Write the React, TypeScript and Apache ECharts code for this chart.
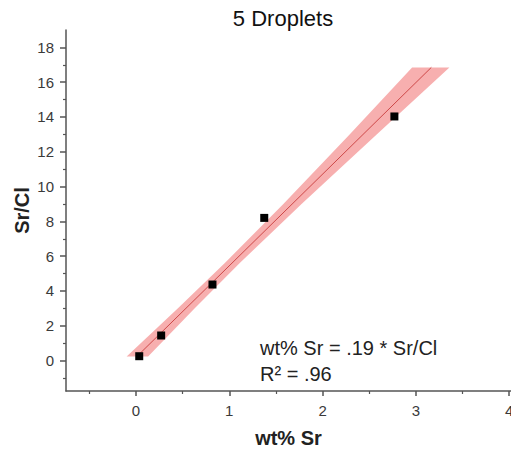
import React, { useEffect, useRef } from "react";
import * as echarts from "echarts";

// Data points (wt% Sr, Sr/Cl)
const wtSr = [0.035, 0.27, 0.82, 1.375, 2.77];
const srCl = [0.25, 1.44, 4.37, 8.2, 14.03];

// Fit line endpoints
const fitY = [0.23, 16.85];
const fitX = [0.009, 3.166];

// Confidence band edges, x-extent at given Sr/Cl levels
const bandY = [0.23, 3, 5.6, 9, 13, 16.85];
const bandLo = [-0.1, 0.45, 0.95, 1.58, 2.29, 2.96];
const bandHi = [0.13, 0.63, 1.11, 1.775, 2.58, 3.36];

// Ticks
const xMajor = [0, 1, 2, 3, 4];
const xMinor = [-0.5, 0.5, 1.5, 2.5, 3.5];
const yMajor = [0, 2, 4, 6, 8, 10, 12, 14, 16, 18];
const yMinor = [-1, 1, 3, 5, 7, 9, 11, 13, 15, 17];

const title = "5 Droplets";
const eqLine1 = "wt% Sr = .19 * Sr/Cl";
const eqLine2 = "R² = .96";

const FONT = "'Liberation Sans', Arial, Helvetica, sans-serif";
const AXIS_COLOR = "#555";
const LABEL_COLOR = "#3a3a3a";

export default function App() {
  const ref = useRef<HTMLDivElement>(null);
  useEffect(() => {
    if (!ref.current) return;
    const chart = echarts.init(ref.current, undefined, { renderer: "svg" });
    const xMin = -0.75, xMax = 4.02, yMin = -1.75, yMax = 19;
    const bandPoly: number[][] = [];
    for (let i = 0; i < bandY.length; i++) bandPoly.push([bandLo[i], bandY[i]]);
    for (let i = bandY.length - 1; i >= 0; i--) bandPoly.push([bandHi[i], bandY[i]]);

    const baseX = {
      type: "value" as const,
      min: xMin,
      max: xMax,
      gridIndex: 0,
      position: "bottom" as const,
      splitLine: { show: false },
    };
    const baseY = {
      type: "value" as const,
      min: yMin,
      max: yMax,
      gridIndex: 0,
      position: "left" as const,
      splitLine: { show: false },
    };

    chart.setOption({
      animation: false,
      textStyle: { fontFamily: FONT },
      grid: { left: 66, right: 0, top: 30, bottom: 58, containLabel: false, outerBoundsMode: "none" },
      xAxis: [
        {
          ...baseX,
          name: "wt% Sr",
          nameLocation: "middle",
          nameGap: 37,
          nameMoveOverlap: false,
          nameTextStyle: { fontSize: 20, fontWeight: "bold", color: "#222", fontFamily: FONT },
          axisLine: { show: true, onZero: false, lineStyle: { color: AXIS_COLOR, width: 1.5 } },
          axisTick: { show: true, customValues: xMajor, length: 5, inside: false, lineStyle: { color: AXIS_COLOR, width: 1.5 } },
          axisLabel: { show: true, customValues: xMajor, margin: 12, fontSize: 15, color: LABEL_COLOR, fontFamily: FONT, showMaxLabel: true, showMinLabel: true },
        },
        {
          ...baseX,
          axisLine: { show: false, onZero: false },
          axisTick: { show: true, customValues: xMinor, length: 3, inside: false, lineStyle: { color: AXIS_COLOR, width: 1.2 } },
          axisLabel: { show: false },
        },
      ],
      yAxis: [
        {
          ...baseY,
          name: "Sr/Cl",
          nameLocation: "middle",
          nameGap: 34,
          nameMoveOverlap: false,
          nameTextStyle: { fontSize: 20, fontWeight: "bold", color: "#222", fontFamily: FONT },
          axisLine: { show: true, onZero: false, lineStyle: { color: AXIS_COLOR, width: 1.5 } },
          axisTick: { show: true, customValues: yMajor, length: 6, inside: false, lineStyle: { color: AXIS_COLOR, width: 1.5 } },
          axisLabel: { show: true, customValues: yMajor, margin: 12, fontSize: 15, color: LABEL_COLOR, fontFamily: FONT },
        },
        {
          ...baseY,
          axisLine: { show: false, onZero: false },
          axisTick: { show: true, customValues: yMinor, length: 3, inside: false, lineStyle: { color: AXIS_COLOR, width: 1.2 } },
          axisLabel: { show: false },
        },
      ],
      graphic: [
        {
          type: "text",
          x: 283,
          y: 18,
          style: { text: title, fontSize: 22, fontFamily: FONT, fill: "#111", align: "center", verticalAlign: "middle" },
        },
        {
          type: "text",
          x: 260,
          y: 347.5,
          style: { text: eqLine1, fontSize: 20, fontFamily: FONT, fill: "#222", align: "left", verticalAlign: "middle" },
        },
        {
          type: "text",
          x: 260,
          y: 374,
          style: { text: eqLine2, fontSize: 20, fontFamily: FONT, fill: "#222", align: "left", verticalAlign: "middle" },
        },
      ],
      series: [
        {
          type: "custom",
          xAxisIndex: 0,
          yAxisIndex: 0,
          z: 1,
          data: [[bandLo[0], bandY[0]]],
          renderItem: (_params: any, api: any) => {
            const pts = bandPoly.map((p) => api.coord(p));
            return {
              type: "polygon",
              shape: { points: pts },
              style: { fill: "rgba(240, 110, 110, 0.55)", stroke: "none" },
            };
          },
          silent: true,
        },
        {
          type: "line",
          xAxisIndex: 0,
          yAxisIndex: 0,
          z: 2,
          data: fitX.map((x, i) => [x, fitY[i]]),
          showSymbol: false,
          symbol: "none",
          lineStyle: { color: "#c83c3c", width: 0.9 },
          silent: true,
        },
        {
          type: "scatter",
          xAxisIndex: 0,
          yAxisIndex: 0,
          z: 3,
          data: wtSr.map((x, i) => [x, srCl[i]]),
          symbol: "rect",
          symbolSize: 8,
          itemStyle: { color: "#000", opacity: 1 },
        },
      ],
    });
    return () => chart.dispose();
  }, []);
  return <div ref={ref} style={{ width: 511, height: 449, position: "absolute", left: 0, top: 0 }} />;
}
